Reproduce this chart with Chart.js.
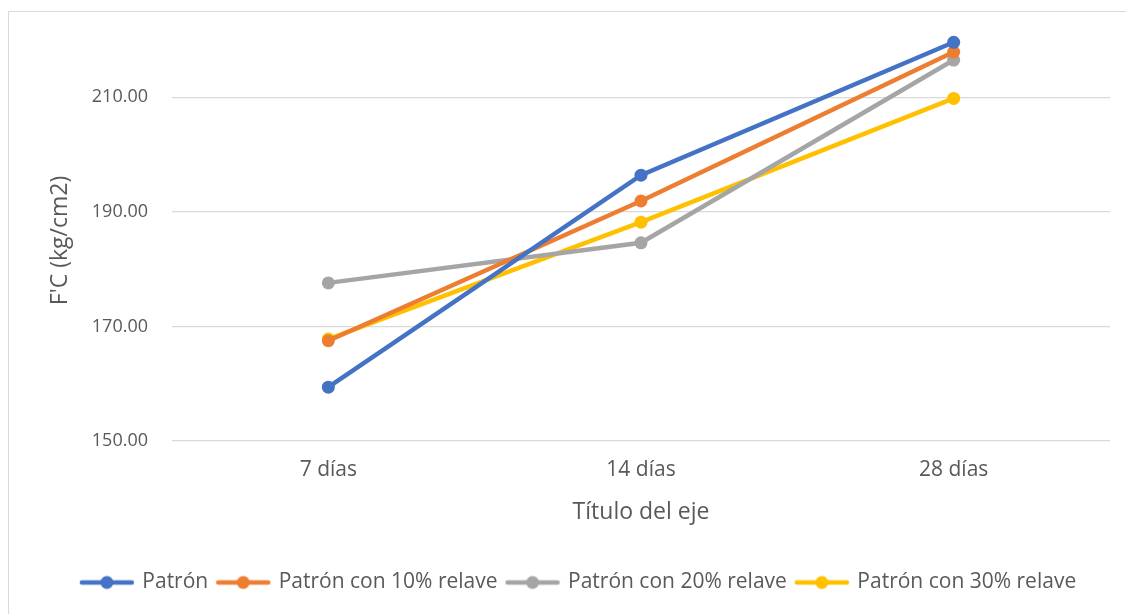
<!DOCTYPE html>
<html><head><meta charset="utf-8">
<script src="https://cdn.jsdelivr.net/npm/chart.js@4.4.1/dist/chart.umd.min.js"></script>
<style>
html,body{margin:0;padding:0;background:#fff;overflow:hidden;}
#wrap{position:absolute;left:0;top:0;width:1126px;height:614px;}
#frame{position:absolute;left:8px;top:11px;width:1130px;height:620px;border:1px solid #d9d9d9;box-sizing:border-box;pointer-events:none;}
</style></head>
<body>
<div id="wrap"><canvas id="c" width="1126" height="614"></canvas></div>
<div id="frame"></div>
<script>
const categories = ['7 días', '14 días', '28 días'];
const patron = [159.4, 196.4, 219.6];
const patron10 = [167.5, 191.9, 217.9];
const patron20 = [177.6, 184.6, 216.5];
const patron30 = [167.8, 188.2, 209.8];
const yTicks = [150, 170, 190, 210];
const seriesNames = ['Patrón', 'Patrón con 10% relave', 'Patrón con 20% relave', 'Patrón con 30% relave'];
const colors = ['#4472C4', '#ED7D31', '#A5A5A5', '#FFC000'];
const FONT = 'Open Sans';

function legendIcon(color){
  const c = document.createElement('canvas');
  c.width = 56; c.height = 16;
  const x = c.getContext('2d');
  x.strokeStyle = color; x.lineWidth = 4.5; x.lineCap = 'round';
  x.beginPath(); x.moveTo(3, 8); x.lineTo(53, 8); x.stroke();
  x.fillStyle = color; x.beginPath(); x.arc(28, 8, 6.5, 0, Math.PI*2); x.fill();
  return c;
}
const allData = [patron, patron10, patron20, patron30];
const datasets = allData.map((d, i) => ({
  label: seriesNames[i], data: d,
  borderColor: colors[i], backgroundColor: colors[i],
  borderWidth: 4.5, pointRadius: 6.5, pointHoverRadius: 6.5,
  pointBackgroundColor: colors[i], pointBorderWidth: 0,
  pointStyle: 'circle', tension: 0, clip: false
}));
const icons = colors.map(legendIcon);

const legendShift = {
  id: 'legendShift',
  beforeDraw(chart){
    const lg = chart.legend;
    if (lg && !lg._shifted) { lg.left += 20; lg.right += 20; lg._shifted = true; }
  },
  afterLayout(chart){ if (chart.legend) chart.legend._shifted = false; }
};

const chart = new Chart(document.getElementById('c'), {
  type: 'line',
  data: { labels: categories, datasets },
  plugins: [legendShift],
  options: {
    responsive: false, animation: false,
    layout: { padding: { left: 8, right: 16, top: 40, bottom: 11 } },
    plugins: {
      legend: {
        position: 'bottom',
        labels: {
          usePointStyle: true, pointStyleWidth: 50,
          font: { family: FONT, size: 21 }, color: '#595959', padding: 10,
          generateLabels(chart){
            return chart.data.datasets.map((d, i) => ({
              text: d.label, pointStyle: icons[i], fillStyle: d.borderColor,
              strokeStyle: d.borderColor, lineWidth: 0, datasetIndex: i, hidden: false, fontColor: '#595959'
            }));
          }
        }
      },
      tooltip: { enabled: false }
    },
    scales: {
      x: {
        offset: true,
        grid: { display: false }, border: { display: false },
        ticks: { font: { family: FONT, size: 21 }, color: '#595959', padding: 8 },
        title: { display: true, text: 'Título del eje', font: { family: FONT, size: 23 }, color: '#595959', padding: { top: 0, bottom: 36 } },
        afterFit(s){ s.height = 121; }
      },
      y: {
        min: 150, max: 220,
        afterBuildTicks(s){ s.ticks = yTicks.map(v => ({ value: v })); },
        grid: { color: '#d9d9d9', lineWidth: 1.3, drawTicks: false },
        border: { display: false },
        ticks: { font: { family: FONT, size: 18 }, color: '#595959', padding: 24, callback: v => Number(v).toFixed(2) },
        title: { display: true, text: "F'C (kg/cm2)", font: { family: FONT, size: 23 }, color: '#595959', padding: { top: 39, bottom: 0 } },
        afterFit(s){ s.width = 164; }
      }
    }
  }
});
</script>
</body></html>
